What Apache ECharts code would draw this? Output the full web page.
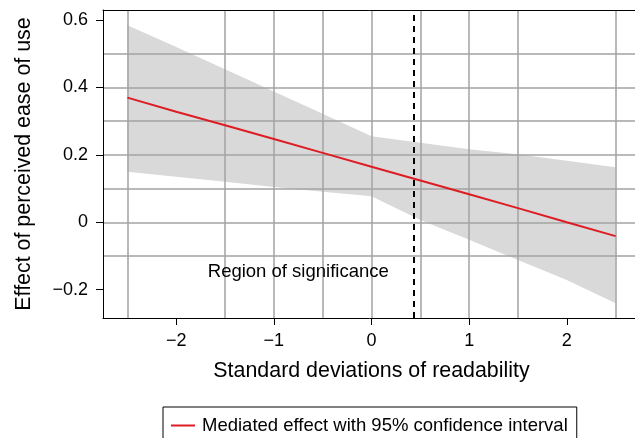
<!DOCTYPE html>
<html>
<head>
<meta charset="utf-8">
<script src="https://cdn.jsdelivr.net/npm/echarts@6/dist/echarts.min.js"></script>
<style>
  html, body { margin: 0; padding: 0; background: #fff; }
  #chart { width: 635px; height: 438px; }
</style>
</head>
<body>
<div id="chart"></div>
<script>
  // values
  var lineX = [-2.5, -2, -1.5, -1, -0.5, 0, 0.5, 1, 1.5, 2, 2.5];
  var effect = [0.37, 0.328, 0.288, 0.247, 0.206, 0.165, 0.124, 0.083, 0.042, 0.0, -0.041];
  var bandX = [-2.5, -2, -1.5, -1, -0.5, 0, 0.5, 1, 1.5, 2, 2.5];
  var upperCI = [0.585, 0.52, 0.454, 0.388, 0.322, 0.255, 0.236, 0.217, 0.202, 0.183, 0.163];
  var lowerCI = [0.150, 0.135, 0.120, 0.105, 0.091, 0.077, 0.007, -0.052, -0.112, -0.171, -0.240];
  var cutoff = 0.43;
  var xTicks = [-2, -1, 0, 1, 2];
  var yTicks = [-0.2, 0, 0.2, 0.4, 0.6];
  var regionLabelPos = [-0.75, -0.147];
  var seriesName = 'Mediated effect with 95% confidence interval';

  var font = "'Liberation Sans', Arial, sans-serif";
  var gridColor = '#a3a3a3';

  function minus(v) { return String(v).replace('-', '\u2212'); }

  var myChart = echarts.init(document.getElementById('chart'));

  var option = {
    animation: false,
    textStyle: { fontFamily: font, color: '#000' },
    // plot runs a few px past the right edge of the picture
    grid: { left: 103, width: 537, top: 10, bottom: 120, outerBoundsMode: 'none', containLabel: false },
    legend: {
      data: [{ name: seriesName, icon: 'rect' }],
      left: 163,
      top: 407,
      itemWidth: 24,
      itemHeight: 2,
      padding: [9, 9, 10, 8],
      borderColor: '#000',
      borderWidth: 1,
      borderRadius: 0,
      textStyle: { fontSize: 18.5, color: '#000', fontFamily: font, padding: [0, 0, 0, 2] }
    },
    xAxis: [{
      type: 'value',
      min: -2.75,
      max: 2.75,
      z: 5,
      name: 'Standard deviations of readability',
      nameLocation: 'middle',
      nameGap: 43,
      nameTextStyle: { fontSize: 21.4, color: '#000', fontFamily: font },
      axisLine: { show: true, onZero: false, lineStyle: { color: '#000', width: 1 } },
      axisTick: { show: true, customValues: xTicks, length: 7, lineStyle: { color: '#000', width: 1 } },
      axisLabel: { customValues: xTicks, fontSize: 18, color: '#000', margin: 14, formatter: minus },
      splitLine: { show: true, showMinLine: false, showMaxLine: false, lineStyle: { color: gridColor, width: 1.5 } },
      minorTick: { show: false, splitNumber: 2 },
      minorSplitLine: { show: true, lineStyle: { color: gridColor, width: 1.5 } }
    }, {
      type: 'value',
      position: 'top',
      min: -2.75,
      max: 2.75,
      z: 6,
      axisLine: { show: true, onZero: false, lineStyle: { color: '#000', width: 1 } },
      axisTick: { show: false },
      axisLabel: { show: false },
      splitLine: { show: false }
    }],
    yAxis: {
      type: 'value',
      min: -0.284,
      max: 0.63,
      z: 4,
      name: 'Effect of perceived ease of use',
      nameLocation: 'middle',
      nameGap: 68,
      nameTextStyle: { fontSize: 21.4, color: '#000', fontFamily: font },
      axisLine: { show: true, onZero: false, lineStyle: { color: '#000', width: 1 } },
      axisTick: { show: true, customValues: yTicks, length: 7, lineStyle: { color: '#000', width: 1 } },
      axisLabel: { customValues: yTicks, fontSize: 18, color: '#000', margin: 15, formatter: minus },
      splitLine: { show: true, showMinLine: false, showMaxLine: false, lineStyle: { color: gridColor, width: 1.5 } },
      minorTick: { show: false, splitNumber: 2 },
      minorSplitLine: { show: true, lineStyle: { color: gridColor, width: 1.5 } }
    },
    series: [{
      // confidence band, under the grid lines
      type: 'custom',
      name: 'band',
      z: -1,
      silent: true,
      data: [[0, 0]],
      renderItem: function (params, api) {
        var pts = [];
        for (var i = 0; i < bandX.length; i++) pts.push(api.coord([bandX[i], upperCI[i]]));
        for (var j = bandX.length - 1; j >= 0; j--) pts.push(api.coord([bandX[j], lowerCI[j]]));
        return { type: 'polygon', shape: { points: pts }, style: { fill: '#d9d9d9' } };
      }
    }, {
      type: 'line',
      name: seriesName,
      z: 8,
      data: lineX.map(function (x, i) { return [x, effect[i]]; }),
      showSymbol: false,
      color: '#dd1c24',
      lineStyle: { color: '#dd1c24', width: 2 },
      markLine: {
        silent: true,
        symbol: ['none', 'none'],
        label: { show: false },
        lineStyle: { color: '#000', type: [6, 5], width: 2 },
        data: [{ xAxis: cutoff }]
      }
    }, {
      // "Region of significance" annotation
      type: 'custom',
      name: 'region',
      silent: true,
      z: 9,
      data: [regionLabelPos],
      renderItem: function (params, api) {
        var p = api.coord([api.value(0), api.value(1)]);
        return {
          type: 'text',
          x: p[0],
          y: p[1],
          style: {
            text: 'Region of significance',
            fill: '#000',
            font: "18.5px 'Liberation Sans', Arial, sans-serif",
            align: 'center',
            verticalAlign: 'middle'
          }
        };
      }
    }]
  };

  myChart.setOption(option);
</script>
</body>
</html>
